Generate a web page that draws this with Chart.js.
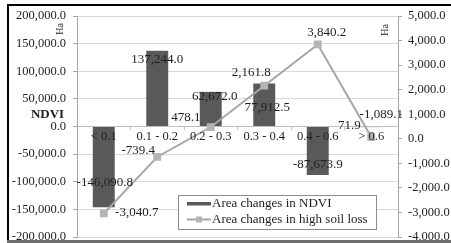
<!DOCTYPE html>
<html><head><meta charset="utf-8">
<script src="https://cdn.jsdelivr.net/npm/chart.js@4.4.0/dist/chart.umd.min.js"></script>
<style>html,body{margin:0;padding:0;background:#fff;overflow:hidden}canvas{display:block}</style>
</head><body>
<canvas id="c" width="451" height="243"></canvas>
<script>
const categories = ["< 0.1", "0.1 - 0.2", "0.2 - 0.3", "0.3 - 0.4", "0.4 - 0.6", "> 0.6"];
const ndviChange = [-146090.8, 137244.0, 62672.0, 77912.5, -87673.9, -1089.1];
const soilLossChange = [-3040.7, -739.4, 478.1, 2161.8, 3840.2, 71.9];
const seriesNames = ["Area changes in NDVI", "Area changes in high soil loss"];
const leftAxisRange = [-200000, 200000, 50000];
const rightAxisRange = [-4000, 5000, 1000];
const leftAxisTitle = "NDVI";
const unitLabel = "Ha";

// label placement offsets (style only)
const barLabelOffsets = [[1,-25],[0,9],[4,5],[3,24],[0,-10],[10,-13]];
const lineLabelOffsets = [[33,-1],[-19,-6],[-25,-9],[-13,-13],[9,-12],[-22,-11]];

const SERIF = '"Liberation Serif", "Times New Roman", serif';
const fmt = v => Number(v).toLocaleString('en-US', {minimumFractionDigits: 1, maximumFractionDigits: 1});
const BAR_COLOR = '#595959', LINE_COLOR = '#a6a6a6', TEXT = '#1e1e1e';

const decor = {
  id: 'decor',
  beforeDraw(chart) {
    const ctx = chart.ctx;
    ctx.save(); ctx.fillStyle = '#fff'; ctx.fillRect(0, 0, chart.width, chart.height); ctx.restore();
  },
  afterDatasetsDraw(chart) {
    const ctx = chart.ctx;
    ctx.save();
    ctx.font = '13px ' + SERIF;
    ctx.fillStyle = TEXT;
    ctx.textAlign = 'center';
    ctx.textBaseline = 'middle';
    chart.getDatasetMeta(0).data.forEach((el, i) => {
      const o = barLabelOffsets[i];
      ctx.fillText(fmt(ndviChange[i]), el.x + o[0], el.y + o[1]);
    });
    chart.getDatasetMeta(1).data.forEach((el, i) => {
      const o = lineLabelOffsets[i];
      ctx.fillText(fmt(soilLossChange[i]), el.x + o[0], el.y + o[1]);
    });
    ctx.restore();
  },
  afterDraw(chart) {
    const ctx = chart.ctx;
    ctx.save();
    // legend
    ctx.fillStyle = '#fff';
    ctx.fillRect(178.5, 195.5, 198, 34);
    ctx.strokeStyle = '#8c8c8c'; ctx.lineWidth = 1;
    ctx.strokeRect(178.5, 195.5, 198, 34);
    ctx.fillStyle = BAR_COLOR;
    ctx.fillRect(187, 202, 24, 3.5);
    ctx.strokeStyle = LINE_COLOR; ctx.lineWidth = 2;
    ctx.beginPath(); ctx.moveTo(187, 219.5); ctx.lineTo(211, 219.5); ctx.stroke();
    ctx.fillStyle = '#b4b4b4';
    ctx.fillRect(196, 216.5, 6, 6);
    ctx.font = '13px ' + SERIF; ctx.fillStyle = TEXT;
    ctx.textAlign = 'left'; ctx.textBaseline = 'middle';
    ctx.fillText(chart.data.datasets[0].label, 212, 204);
    ctx.fillText(chart.data.datasets[1].label, 212, 220);
    // axis titles
    ctx.font = 'bold 13px ' + SERIF; ctx.textAlign = 'center';
    ctx.fillText(leftAxisTitle, 47.5, 115);
    ctx.font = '10px ' + SERIF;
    [[60, 29], [385, 30]].forEach(p => {
      ctx.save(); ctx.translate(p[0], p[1]); ctx.rotate(-Math.PI / 2);
      ctx.fillText(unitLabel, 0, 0); ctx.restore();
    });
    // frame
    ctx.fillStyle = '#000';
    ctx.fillRect(7, 4, 444, 2);
    ctx.fillRect(7, 4, 2, 237);
    ctx.fillStyle = '#6e6e6e';
    ctx.fillRect(7, 240, 444, 3);
    ctx.restore();
  }
};

new Chart(document.getElementById('c'), {
  data: {
    labels: categories,
    datasets: [
      { type: 'bar', label: seriesNames[0], data: ndviChange, yAxisID: 'y', backgroundColor: BAR_COLOR,
        barPercentage: 0.41, categoryPercentage: 1, order: 2 },
      { type: 'line', label: seriesNames[1], data: soilLossChange, yAxisID: 'y1', borderColor: LINE_COLOR,
        backgroundColor: '#b4b4b4', borderWidth: 2, pointStyle: 'rect', pointRadius: 5.5,
        pointBorderWidth: 0, tension: 0, order: 1 }
    ]
  },
  options: {
    responsive: false, animation: false,
    layout: { padding: { top: 16, bottom: 6, left: 0, right: 0 } },
    plugins: { legend: { display: false }, tooltip: { enabled: false } },
    scales: {
      x: {
        type: 'category', position: { y: 0 }, offset: true,
        grid: { drawOnChartArea: false, tickLength: 3, color: '#bfbfbf', offset: true },
        border: { color: '#bfbfbf' },
        ticks: { z: 1, padding: 0, autoSkip: false, maxRotation: 0, color: TEXT, font: { family: SERIF, size: 12.5 } },
        afterFit(s) { s.paddingLeft = 0; s.paddingRight = 0; s.paddingTop = 0; s.paddingBottom = 0; }
      },
      y: {
        position: 'left', min: leftAxisRange[0], max: leftAxisRange[1],
        ticks: { stepSize: leftAxisRange[2], padding: 7, color: TEXT, font: { family: SERIF, size: 12.5 }, callback: v => fmt(v) },
        grid: { color: '#d9d9d9', tickLength: 4, tickColor: '#a6a6a6' },
        border: { color: '#a6a6a6' },
        afterFit(s) { s.width = 77; s.paddingTop = 0; s.paddingBottom = 0; }
      },
      y1: {
        position: 'right', min: rightAxisRange[0], max: rightAxisRange[1],
        ticks: { stepSize: rightAxisRange[2], padding: 6, color: TEXT, font: { family: SERIF, size: 12.5 }, callback: v => fmt(v) },
        grid: { drawOnChartArea: false, tickLength: 4, tickColor: '#a6a6a6' },
        border: { color: '#a6a6a6' },
        afterFit(s) { s.width = 53; s.paddingTop = 0; s.paddingBottom = 0; }
      }
    }
  },
  plugins: [decor]
});
</script>
</body></html>
